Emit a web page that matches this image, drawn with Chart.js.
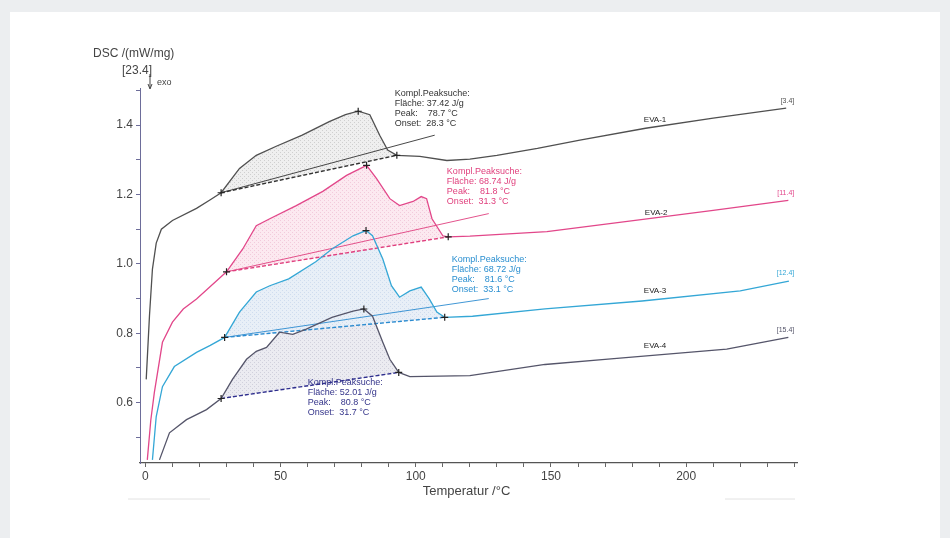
<!DOCTYPE html>
<html>
<head>
<meta charset="utf-8">
<script src="https://cdn.jsdelivr.net/npm/chart.js@4.4.1/dist/chart.umd.min.js"></script>
<style>
  html, body { margin: 0; padding: 0; background: #eceef0; }
  #card { position: absolute; left: 10px; top: 12px; width: 930px; height: 526px; background: #fff; }
  #wrap { position: absolute; left: 0; top: 0; width: 950px; height: 538px; }
</style>
</head>
<body>
<div id="card"></div>
<div id="wrap"><canvas id="dsc" width="950" height="538"></canvas></div>
<script>
// ── data (temperature °C / DSC mW/mg) ──
const eva1T = [0.3, 1.5, 2.6, 4, 5.9, 10, 18.9, 24, 28, 34.8, 41, 48.4, 58, 68, 74, 78.7, 83, 86.7, 89.6, 93, 101.5, 111.5, 120, 130, 145, 160.7, 185, 210, 237];
const eva1Y = [0.667, 0.85, 0.985, 1.06, 1.10, 1.125, 1.16, 1.185, 1.205, 1.275, 1.313, 1.339, 1.371, 1.41, 1.43, 1.44, 1.43, 1.37, 1.328, 1.313, 1.31, 1.298, 1.302, 1.313, 1.333, 1.357, 1.391, 1.42, 1.449];

const eva2T = [0.7, 2, 3.3, 6.3, 10, 14, 18.9, 24, 30, 36, 41, 46, 55.8, 65.6, 74.4, 81.8, 85.5, 90.4, 94, 99, 102, 104, 106, 110, 112, 120, 148.5, 185.5, 210, 237.8];
const eva2Y = [0.435, 0.55, 0.629, 0.774, 0.832, 0.87, 0.899, 0.935, 0.977, 1.043, 1.11, 1.13, 1.168, 1.209, 1.255, 1.284, 1.246, 1.188, 1.168, 1.18, 1.194, 1.188, 1.13, 1.081, 1.078, 1.08, 1.093, 1.13, 1.154, 1.183];

const eva3T = [2.6, 4, 6.3, 10.7, 18.9, 24, 29.3, 34.8, 41, 46, 53, 63, 69, 76.8, 81.6, 84, 87.8, 91, 94, 97.8, 102, 105, 107.8, 110.7, 121, 147.8, 183.7, 220, 238];
const eva3Y = [0.435, 0.56, 0.646, 0.704, 0.745, 0.765, 0.788, 0.861, 0.919, 0.937, 0.957, 1.006, 1.043, 1.081, 1.096, 1.081, 1.014, 0.937, 0.904, 0.922, 0.933, 0.899, 0.861, 0.846, 0.849, 0.87, 0.893, 0.922, 0.95];

const eva4T = [5.2, 8.9, 15.2, 22.6, 28, 32.2, 37.4, 41, 44.8, 49.6, 54.5, 59.5, 69, 76.8, 80.8, 84, 87.8, 90.4, 93.7, 97.8, 120, 147.8, 170, 215, 237.8];
const eva4Y = [0.435, 0.513, 0.551, 0.58, 0.612, 0.667, 0.725, 0.748, 0.759, 0.803, 0.797, 0.812, 0.846, 0.864, 0.87, 0.849, 0.774, 0.725, 0.687, 0.675, 0.678, 0.71, 0.725, 0.754, 0.788];

// integration limits [onsetT, onsetY, endT, endY] and peak [T, Y]
const eva1Base = [28, 1.205, 93, 1.313];
const eva2Base = [30, 0.977, 112, 1.078];
const eva3Base = [29.3, 0.788, 110.7, 0.846];
const eva4Base = [28, 0.612, 93.7, 0.687];
const peaks = [[78.7, 1.44], [81.8, 1.284], [81.6, 1.096], [80.8, 0.87]];

// leader lines from onset to the result box
const eva1Lead = [28, 1.205, 107, 1.371];
const eva2Lead = [30, 0.977, 127, 1.145];
const eva3Lead = [29.3, 0.788, 127, 0.9];

const sampleNames = ['EVA-1', 'EVA-2', 'EVA-3', 'EVA-4'];
const endTags = ['[3.4]', '[11.4]', '[12.4]', '[15.4]'];
const results = [
  ['Kompl.Peaksuche:', 'Fläche: 37.42 J/g', 'Peak:    78.7 °C', 'Onset:  28.3 °C'],
  ['Kompl.Peaksuche:', 'Fläche: 68.74 J/g', 'Peak:    81.8 °C', 'Onset:  31.3 °C'],
  ['Kompl.Peaksuche:', 'Fläche: 68.72 J/g', 'Peak:    81.6 °C', 'Onset:  33.1 °C'],
  ['Kompl.Peaksuche:', 'Fläche: 52.01 J/g', 'Peak:    80.8 °C', 'Onset:  31.7 °C']
];

// ── styling ──
const lineCol  = ['#505050', '#e2478a', '#34a7d6', '#55556a'];
const baseCol  = ['#333333', '#e0407f', '#2b8bd0', '#2e2e8e'];
const textCol  = ['#333333', '#e0407d', '#2a8fd0', '#34348a'];
const resultAt = [[92.2, 1.505], [111.5, 1.278], [113.3, 1.025], [60, 0.672]];
const nameAt   = [[188.5, 1.414], [188.9, 1.148], [188.5, 0.922], [188.5, 0.765]];
const tagAt    = [[240, 1.468], [240, 1.203], [240, 0.971], [240, 0.808]];
const FONT = '"Liberation Sans Narrow", "Liberation Sans", Arial, sans-serif';

function hatch(bg, fg) {
  const c = document.createElement('canvas');
  c.width = c.height = 4;
  const g = c.getContext('2d');
  g.fillStyle = bg; g.fillRect(0, 0, 4, 4);
  g.fillStyle = fg; g.fillRect(0, 0, 1, 1); g.fillRect(2, 2, 1, 1);
  return g.createPattern(c, 'repeat');
}
const fills = [
  hatch('#efefef', '#cfcfcf'),
  hatch('#fce9f0', '#f2cadb'),
  hatch('#e8eff7', '#cfdcee'),
  hatch('#ebebf1', '#d0d0dc')
];

const pts = (T, Y) => T.map((t, i) => ({ x: t, y: Y[i] }));
const seg = a => [{ x: a[0], y: a[1] }, { x: a[2], y: a[3] }];

const curves = [pts(eva1T, eva1Y), pts(eva2T, eva2Y), pts(eva3T, eva3Y), pts(eva4T, eva4Y)];
const bases = [eva1Base, eva2Base, eva3Base, eva4Base];
const leads = [eva1Lead, eva2Lead, eva3Lead, null];

const datasets = [];
curves.forEach((c, k) => {
  const b = bases[k];
  // baseline
  const baseIdx = datasets.length;
  datasets.push({ data: seg(b), borderColor: baseCol[k], borderWidth: 1.4, borderDash: [4, 2], pointRadius: 0, order: 2 });
  // peak area between curve and baseline
  const area = [{ x: b[0], y: b[1] }].concat(c.filter(p => p.x > b[0] && p.x < b[2]), [{ x: b[2], y: b[3] }]);
  datasets.push({ data: area, borderWidth: 0, borderColor: 'rgba(0,0,0,0)', pointRadius: 0, order: 10,
    fill: { target: baseIdx, above: fills[k], below: fills[k] } });
  // curve
  datasets.push({ data: c, borderColor: lineCol[k], borderWidth: 1.3, pointRadius: 0, order: 1 });
  if (leads[k]) datasets.push({ data: seg(leads[k]), borderColor: baseCol[k], borderWidth: 0.9, pointRadius: 0, order: 3 });
  // markers
  datasets.push({ data: [{ x: b[0], y: b[1] }, { x: peaks[k][0], y: peaks[k][1] }, { x: b[2], y: b[3] }],
    showLine: false, pointStyle: 'cross', pointRadius: 3.5, borderColor: '#222', borderWidth: 1.2, order: 0 });
});

const textPlugin = {
  id: 'dscText',
  afterDatasetsDraw(chart) {
    const { ctx, scales: { x, y }, chartArea: ca } = chart;
    ctx.save();
    ctx.textBaseline = 'top';
    ctx.textAlign = 'left';
    results.forEach((lines, k) => {
      ctx.fillStyle = textCol[k];
      ctx.font = '9px ' + FONT;
      const px = x.getPixelForValue(resultAt[k][0]), py = y.getPixelForValue(resultAt[k][1]);
      lines.forEach((s, i) => ctx.fillText(s, px, py + i * 10));
    });
    ctx.textAlign = 'center';
    ctx.fillStyle = '#222';
    ctx.font = '8px ' + FONT;
    sampleNames.forEach((s, k) => ctx.fillText(s, x.getPixelForValue(nameAt[k][0]), y.getPixelForValue(nameAt[k][1]) - 4));
    ctx.textAlign = 'right';
    ctx.font = '7px ' + FONT;
    endTags.forEach((s, k) => {
      ctx.fillStyle = lineCol[k];
      ctx.fillText(s, x.getPixelForValue(tagAt[k][0]), y.getPixelForValue(tagAt[k][1]) - 4);
    });
    // axis titles
    ctx.fillStyle = '#444';
    ctx.textAlign = 'left';
    ctx.font = '12px ' + FONT;
    ctx.fillText('DSC /(mW/mg)', ca.left - 47, 48);
    ctx.fillText('[23.4]', ca.left - 18, 65);
    ctx.font = '9px ' + FONT;
    ctx.fillText('exo', ca.left + 17, 78);
    ctx.strokeStyle = '#444'; ctx.lineWidth = 1;
    ctx.beginPath(); ctx.moveTo(ca.left + 10, 74); ctx.lineTo(ca.left + 10, 88); ctx.stroke();
    ctx.beginPath(); ctx.moveTo(ca.left + 8, 84); ctx.lineTo(ca.left + 10, 89); ctx.lineTo(ca.left + 12, 84); ctx.stroke();
    ctx.font = '13px ' + FONT;
    ctx.textAlign = 'center';
    ctx.fillText('Temperatur /°C', (ca.left + ca.right) / 2 - 2, 485);
    // faint rules under the plot
    ctx.strokeStyle = '#e2e2e2'; ctx.lineWidth = 1;
    ctx.beginPath(); ctx.moveTo(128, 499); ctx.lineTo(210, 499); ctx.moveTo(725, 499); ctx.lineTo(795, 499); ctx.stroke();
    ctx.restore();
  }
};

const onlySteps = step => scale => {
  scale.ticks = scale.ticks.filter(t => Math.abs(t.value / step - Math.round(t.value / step)) < 1e-6);
};

new Chart(document.getElementById('dsc'), {
  type: 'line',
  data: { datasets },
  options: {
    responsive: false,
    animation: false,
    parsing: false,
    layout: { padding: { left: 95, right: 153, top: 88, bottom: 45 } },
    plugins: { legend: { display: false }, tooltip: { enabled: false } },
    scales: {
      x: {
        type: 'linear', min: -2, max: 241,
        afterFit: s => { s.height = 30; },
        afterBuildTicks: onlySteps(10),
        border: { color: '#555', width: 1.2 },
        grid: { drawOnChartArea: false, tickLength: 4, color: '#666' },
        ticks: { stepSize: 10, includeBounds: false, autoSkip: false, maxRotation: 0, color: '#444', font: { family: FONT, size: 12 }, padding: 2,
          callback: v => (Math.round(v) % 50 === 0 ? String(Math.round(v)) : '') }
      },
      y: {
        type: 'linear', min: 0.426, max: 1.507,
        afterFit: s => { s.width = 45; },
        afterBuildTicks: onlySteps(0.1),
        border: { color: '#6d6d9a', width: 1 },
        grid: { drawOnChartArea: false, tickLength: 4, color: '#6d6d9a' },
        ticks: { stepSize: 0.1, includeBounds: false, autoSkip: false, color: '#444', font: { family: FONT, size: 12 }, padding: 3,
          callback: v => (Math.round(v * 10) % 2 === 0 ? v.toFixed(1) : '') }
      }
    }
  },
  plugins: [textPlugin]
});
</script>
</body>
</html>
